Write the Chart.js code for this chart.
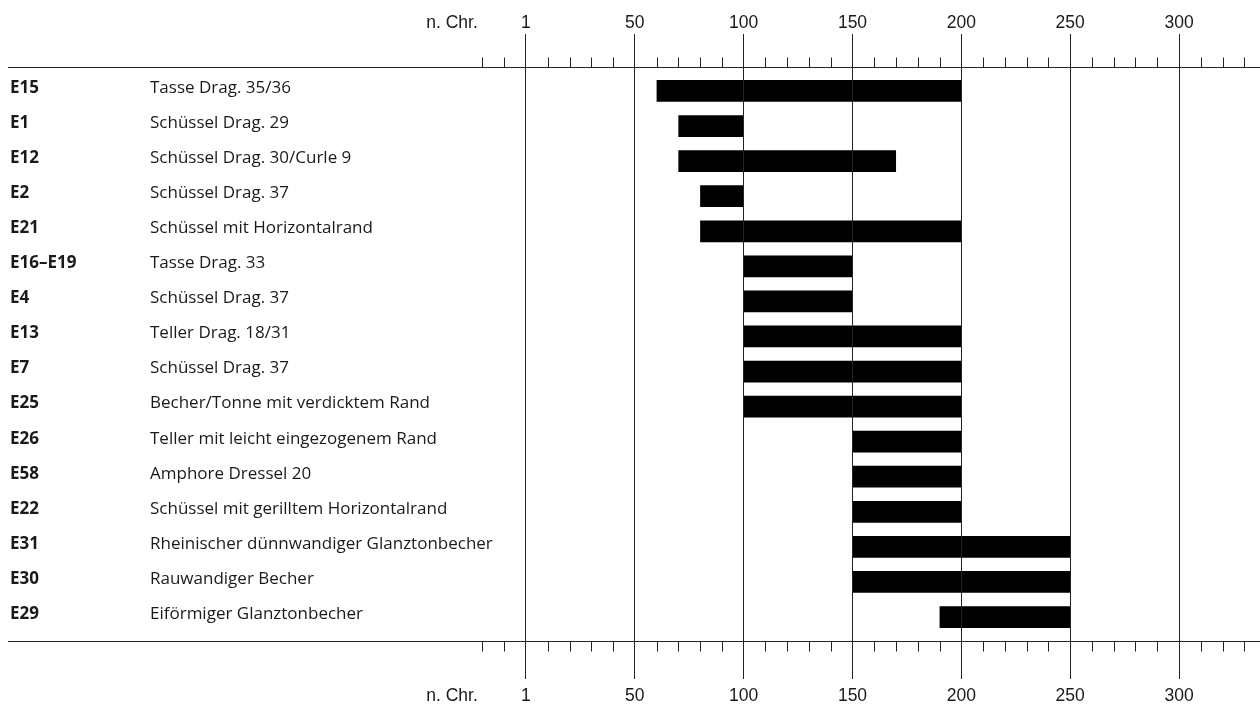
<!DOCTYPE html>
<html>
<head>
<meta charset="utf-8">
<script src="https://cdn.jsdelivr.net/npm/chart.js@4/dist/chart.umd.min.js"></script>
<style>
  html, body { margin: 0; padding: 0; background: #fff; }
</style>
</head>
<body>
<canvas id="chart" width="1260" height="705"></canvas>
<script>
// rows, top to bottom
const codes = ['E15', 'E1', 'E12', 'E2', 'E21', 'E16–E19', 'E4', 'E13', 'E7', 'E25', 'E26', 'E58', 'E22', 'E31', 'E30', 'E29'];
const names = [
    'Tasse Drag. 35/36',
    'Schüssel Drag. 29',
    'Schüssel Drag. 30/Curle 9',
    'Schüssel Drag. 37',
    'Schüssel mit Horizontalrand',
    'Tasse Drag. 33',
    'Schüssel Drag. 37',
    'Teller Drag. 18/31',
    'Schüssel Drag. 37',
    'Becher/Tonne mit verdicktem Rand',
    'Teller mit leicht eingezogenem Rand',
    'Amphore Dressel 20',
    'Schüssel mit gerilltem Horizontalrand',
    'Rheinischer dünnwandiger Glanztonbecher',
    'Rauwandiger Becher',
    'Eiförmiger Glanztonbecher'
];
const fromYear = [60, 70, 70, 80, 80, 100, 100, 100, 100, 100, 150, 150, 150, 150, 150, 190];
const toYear = [200, 100, 170, 100, 200, 150, 150, 200, 200, 200, 200, 200, 200, 250, 250, 250];

// year axis
const yearTicks = [0, 50, 100, 150, 200, 250, 300];
const yearLabels = ['1', '50', '100', '150', '200', '250', '300'];
const eraLabel = 'n. Chr.';

const LINE = '#222';
const TEXT = '#1a1a1a';

// long horizontal rules + short decade ticks
const axisDecor = {
    id: 'axisDecor',
    afterDraw(chart) {
        const { ctx, chartArea, scales } = chart;
        ctx.save();
        ctx.strokeStyle = LINE;
        ctx.lineWidth = 1;
        [chartArea.top, chartArea.bottom].forEach((y, k) => {
            const yy = Math.round(y) + 0.5;
            ctx.beginPath();
            ctx.moveTo(8, yy);
            ctx.lineTo(chart.width, yy);
            ctx.stroke();
            for (let v = -20; v <= 330; v += 10) {
                if (v % 50 === 0) continue;
                const px = Math.round(scales.x.getPixelForValue(v)) + 0.5;
                ctx.beginPath();
                ctx.moveTo(px, yy);
                ctx.lineTo(px, k === 0 ? yy - 10 : yy + 10);
                ctx.stroke();
            }
        });
        ctx.restore();
    }
};

function rowAxis(labels, bold, weight, width) {
    return {
        type: 'linear',
        position: 'left',
        reverse: true,
        offset: false,
        min: -0.684,
        max: 15.684,
        weight,
        grid: { display: false, offset: false },
        border: { display: false },
        afterBuildTicks: s => { s.ticks = labels.map((_, i) => ({ value: i })); },
        afterFit: s => { s.width = width; },
        ticks: {
            autoSkip: false,
            crossAlign: 'far',
            padding: 0,
            labelOffset: -3,
            color: TEXT,
            font: { family: 'Open Sans', size: 17, weight: bold ? 'bold' : 'normal' },
            callback: v => labels[v]
        }
    };
}

function yearAxis(position, tickLen, pad, height) {
    return {
        type: 'linear',
        position,
        min: -11.94,
        max: 337.2,
        afterBuildTicks: s => {
            s.ticks = [{ value: -34 }].concat(yearTicks.map(v => ({ value: v })));
        },
        afterFit: s => { s.height = height; },
        border: { display: false },
        grid: {
            drawOnChartArea: position === 'bottom',
            z: 1,
            tickLength: tickLen,
            lineWidth: 1,
            color: c => (c.tick && c.tick.value < 0) ? 'rgba(0,0,0,0)' : LINE
        },
        ticks: {
            autoSkip: false,
            maxRotation: 0,
            padding: pad,
            color: TEXT,
            font: { family: 'Liberation Sans', size: 17.5 },
            callback: v => v < 0 ? eraLabel : yearLabels[yearTicks.indexOf(v)]
        }
    };
}

new Chart(document.getElementById('chart'), {
    type: 'bar',
    data: {
        datasets: [{
            data: codes.map((c, i) => ({ y: i, x: [fromYear[i], toYear[i]] })),
            backgroundColor: '#000',
            borderWidth: 0,
            borderSkipped: false,
            categoryPercentage: 1,
            barPercentage: 0.62,
            xAxisID: 'x',
            yAxisID: 'yName'
        }]
    },
    options: {
        indexAxis: 'y',
        responsive: false,
        animation: false,
        layout: { padding: { left: 10, right: 0, top: 0, bottom: 0 } },
        plugins: { legend: { display: false }, tooltip: { enabled: false } },
        scales: {
            x: yearAxis('bottom', 38, 7, 64),
            xTop: yearAxis('top', 33, 0, 67),
            yCode: rowAxis(codes, true, 2, 140),
            yName: rowAxis(names, false, 1, 350)
        }
    },
    plugins: [axisDecor]
});
</script>
</body>
</html>
